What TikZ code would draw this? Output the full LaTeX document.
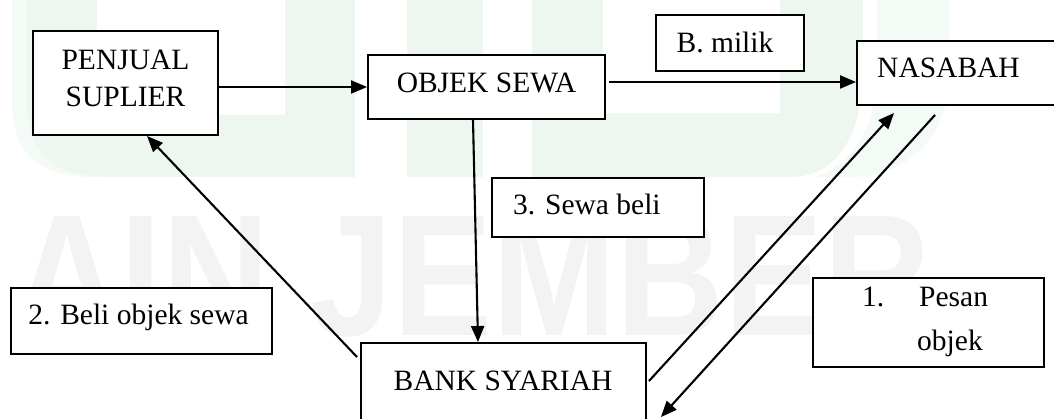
\documentclass[tikz,border=0pt]{standalone}
\usepackage{fontspec}
\usepackage{graphicx}
\setmainfont{Liberation Serif}
\setsansfont{Liberation Sans}
\usetikzlibrary{arrows.meta,calc}
\definecolor{wmgreen}{RGB}{237,246,239}
\definecolor{wmgreenl}{RGB}{244,250,245}
\definecolor{wmgray}{RGB}{243,243,243}
\tikzset{
  box/.style={draw, line width=1.9pt, fill=white, inner sep=0pt},
  txt/.style={inner sep=0pt, font=\fontsize{29.5}{37}\selectfont},
  arr/.style={line width=2.1pt, -{Triangle[length=16pt,width=13pt]}},
}
\begin{document}
\begin{tikzpicture}[x=1pt,y=-1pt]
\useasboundingbox (0,0) rectangle (1054,419);
\clip (0,0) rectangle (1054,419);
% watermark
\fill[wmgreenl] (12,0) -- (12,100) .. controls (12,160) and (45,177) .. (95,177) -- (110,177) .. controls (60,177) and (27,160) .. (27,100) -- (27,0) -- cycle;
\fill[wmgreen, even odd rule] (27,0) -- (27,100) .. controls (27,160) and (60,177) .. (110,177) -- (355,177) -- (355,0) -- cycle
  (97,0) rectangle (285,115);
\fill[wmgreen] (407,0) rectangle (483,177);
\fill[wmgreen, even odd rule] (532,0) -- (532,177) -- (790,177) .. controls (840,177) and (863,130) .. (863,70) -- (863,0) -- cycle
  (603,0) rectangle (780,113);
\fill[wmgreenl] (877,0) -- (950,0) -- (950,70) .. controls (950,140) and (905,177) .. (850,177) -- (815,177) .. controls (850,165) and (877,130) .. (877,70) -- cycle;
\node[anchor=south west, inner sep=0pt, text=wmgray] (wm) at (13,337) {\resizebox{917pt}{119pt}{\sffamily\bfseries AIN JEMBER}};
% boxes
\node[box, minimum width=185pt, minimum height=104pt] (pen) at (125.5,83) {};
\node[box, minimum width=237pt, minimum height=64pt] (obj) at (486.5,87) {};
\node[box, minimum width=218pt, minimum height=64pt] (nas) at (966,73) {};
\node[box, minimum width=148pt, minimum height=56pt] (bml) at (730,43) {};
\node[box, minimum width=212pt, minimum height=59pt] (swb) at (598,207.5) {};
\node[box, minimum width=261pt, minimum height=66pt] (bos) at (141.5,321) {};
\node[box, minimum width=231pt, minimum height=89pt] (pes) at (928.5,322.5) {};
\node[box, minimum width=285pt, minimum height=117pt] (bank) at (503.5,401.5) {};
% texts
\node[txt, align=center] (tpen) at (125.5,78) {PENJUAL\\SUPLIER};
\node[txt, anchor=base] (tobj) at (486.5,93) {OBJEK SEWA};
\node[txt, anchor=base west] (tnas) at (877,78) {NASABAH};
\node[txt, anchor=base] (tbml) at (725,53) {B. milik};
\node[txt, anchor=base west] (tswb) at (513,215) {3. Sewa beli};
\node[txt, anchor=base] (tbos) at (138.5,325) {2. Beli objek sewa};
\node[txt, anchor=base west] (tpes1) at (862,307) {\makebox[57pt][l]{1.}Pesan};
\node[txt, anchor=base west] (tpes2) at (917,350) {objek};
\node[txt, anchor=base] (tbank) at (503,390) {BANK SYARIAH};
% connectors
\draw[arr] (pen.east |- obj.west) -- (obj.west);
\coordinate (c2) at ($(obj.east)+(3,-5)$);
\draw[arr] (c2) -- (c2 -| nas.west);
\draw[arr] ($(obj.south)+(-13.5,0)$) -- ($(bank.north)+(-25.5,0)$);
\draw[arr] ($(bank.north west)+(-3,15)$) -- ($(pen.south)+(21.5,0)$);
\draw[arr] ($(bank.north east)+(2,39)$) -- ($(nas.south west)+(38,7)$);
\draw[arr] ($(nas.south west)+(79,9)$) -- ($(bank.north east)+(14,75)$);
\end{tikzpicture}
\end{document}
